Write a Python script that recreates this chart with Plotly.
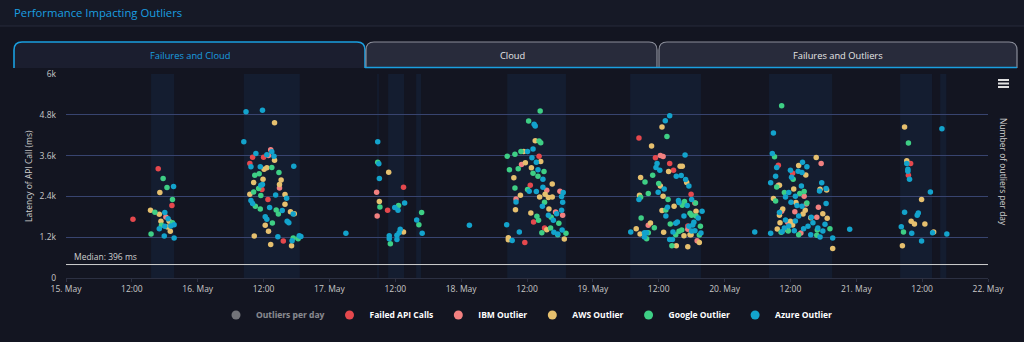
import plotly.graph_objects as go
import pandas as pd

BASE = pd.Timestamp("2023-05-15")

# ---------------- data (hours since 15 May 00:00, latency ms) ----------------
failed_h = [12.2, 16.8, 19.3, 34.0, 36.0, 33.5, 35.7, 36.8, 39.6, 61.5, 58.6, 86.2, 84.6, 85.2, 87.2, 83.6,
            104.4, 107.4, 110.0, 110.7, 113.9, 113.3, 129.8, 132.4, 153.9, 153.5]
failed_ms = [1726, 3210, 2130, 3555, 3555, 3368, 2602, 2307, 1087, 2670, 1991, 3584, 2729, 1647, 1469, 1047,
             4115, 3535, 3368, 3171, 2463, 1529, 3319, 3083, 3368, 3024]

ibm_h = [18.2, 37.3, 36.9, 38.9, 56.6, 56.7, 83.0, 87.6, 90.0, 82.0, 89.2, 90.5,
         108.3, 108.8, 114.6, 106.1, 113.3, 115.0,
         137.6, 129.8, 134.5, 134.9, 137.1, 130.4, 132.8, 136.8, 131.5, 133.9]
ibm_ms = [1794, 3770, 3605, 2650, 2522, 1824, 3338, 2581, 2552, 2326, 1942, 1844,
          3605, 3575, 2207, 1549, 1431, 1097,
          3368, 2729, 2404, 2178, 2080, 1962, 1952, 1785, 1637, 1323]

aws_h = [17.1, 15.4, 17.0, 17.3, 18.8, 18.5, 19.0,
         38.0, 38.0, 36.1, 36.6, 35.9, 39.2, 34.2, 38.9, 33.5, 39.9, 39.9, 40.9, 41.6, 36.3, 36.9, 34.3, 37.3, 41.1,
         58.8, 57.1, 61.5,
         85.5, 83.4, 86.5, 83.7, 84.8, 81.6, 88.6, 87.3, 82.8, 86.3, 87.9, 88.6, 81.9, 88.0, 84.7, 87.6, 80.6, 80.6, 90.8,
         108.6, 106.7, 111.9, 112.3, 109.8, 104.7, 113.1, 108.3, 104.5, 108.8, 110.8, 108.6, 114.8, 106.5, 103.9, 104.6,
         108.9, 112.6, 113.7, 113.9, 115.4, 111.2, 113.3,
         136.7, 133.5, 134.8, 130.0, 132.6, 137.4, 138.6, 128.9, 133.0, 130.6, 134.7, 134.3, 137.9, 130.0, 135.7, 138.7,
         130.1, 132.0, 132.4, 129.6, 131.5, 139.7,
         152.8, 153.2, 155.9, 154.0, 154.6, 156.5, 158.1, 152.4]
aws_ms = [2512, 1991, 1873, 1667, 1667, 1500, 1372,
          4567, 3466, 3201, 3239, 2906, 2886, 2808, 2749, 2463, 2454, 2168, 1952, 1893, 1549, 1372, 1234, 988, 950,
          3112, 2248, 1352,
          4036, 3723, 3427, 3387, 3240, 2945, 2768, 2463, 2434, 2385, 2366, 2385, 2011, 2031, 1913, 1422, 1185, 1126, 1146,
          4440, 3879, 3289, 3289, 3132, 2955, 2808, 2709, 2434, 2404, 2109, 1982, 1962, 1618, 1450, 1293,
          1342, 1244, 1273, 1273, 1047, 950, 920,
          3545, 3309, 3033, 2729, 2620, 2611, 2591, 2336, 2218, 2031, 1991, 1883, 1893, 1844, 1775, 1755,
          1628, 1667, 1559, 1440, 1411, 871,
          4440, 3446, 2307, 1667, 1588, 1588, 1352, 950]

google_h = [17.7, 18.4, 19.4, 16.2, 19.4, 17.4, 15.5,
            37.5, 38.8, 34.4, 35.2, 35.1, 34.2, 35.5, 34.5, 35.4, 38.3, 38.7, 37.6, 42.3, 41.4,
            56.8, 57.2, 60.6, 64.8, 64.3, 59.1,
            86.4, 84.3, 86.2, 86.5, 82.9, 80.4, 81.8, 82.4, 80.8, 87.1, 85.1, 86.0, 81.8, 84.1, 87.2, 85.8, 88.4, 86.1,
            89.8, 88.3, 91.1, 86.7, 89.6,
            109.5, 106.9, 105.5, 108.0, 106.1, 104.7, 109.7, 112.7, 114.7, 112.3, 109.3, 113.7, 114.0, 114.8, 104.8,
            110.1, 107.2, 115.6, 112.2, 111.7, 106.1, 111.1, 115.4, 105.8, 110.4,
            130.4, 129.1, 132.5, 129.5, 130.9, 133.7, 134.5, 129.3, 135.0, 139.2, 136.9, 131.6, 130.3, 133.5, 136.8,
            153.5, 152.6]
google_ms = [2926, 2660, 2307, 1932, 1628, 1549, 1293,
             3251, 3103, 3024, 3063, 2631, 2532, 2424, 2109, 2031, 2001, 1883, 1618, 1156, 1175,
             3407, 2090, 2130, 1923, 1569, 1008,
             4912, 4617, 4027, 3977, 3723, 3584, 3643, 3210, 3181, 3132, 3083, 2994, 2650, 2602, 2227, 1814, 1785, 1696,
             1608, 1469, 1313, 1333, 1273,
             4165, 3024, 2827, 2778, 2484, 2375, 2307, 2248, 2207, 2139, 2001, 1903, 1844, 1824, 1765,
             1588, 1480, 1519, 1411, 1372, 1333, 1273, 1264, 1156, 950,
             5069, 3565, 2906, 2680, 2513, 2483, 2542, 2267, 2207, 1450, 1411, 1382, 1342, 1273, 1254,
             3968, 1352]

azure_h = [19.6, 18.0, 18.6, 19.7, 18.0, 19.1, 17.0, 17.9, 19.7,
           32.8, 35.8, 32.4, 34.6, 36.6, 37.5, 37.9, 33.7, 35.4, 41.5, 35.5, 35.8, 38.2, 40.2, 33.7, 34.0, 37.1, 39.4,
           41.4, 36.3, 36.6, 40.3, 40.6, 38.6, 42.5, 42.8, 41.2,
           51.0, 56.8, 57.0, 57.1, 61.7, 59.9, 60.5, 63.9, 64.9, 60.9, 60.7, 60.3, 58.9, 58.9, 60.3, 73.5,
           85.3, 85.5, 85.1, 84.1, 84.9, 85.7, 86.0, 86.9, 86.9, 84.4, 85.7, 90.6, 90.3, 82.0, 90.5, 86.8, 90.3, 89.4,
           87.9, 88.8, 80.3, 90.4, 88.9, 89.6, 82.6, 81.3,
           110.0, 109.2, 112.8, 107.7, 107.5, 108.2, 111.2, 112.1, 112.9, 113.5, 109.0, 107.9, 104.4, 111.6, 114.0,
           111.7, 113.2, 109.6, 115.9, 112.6, 109.3, 115.2, 111.4, 111.1, 114.4, 114.2, 113.5, 114.0, 114.6, 110.6,
           115.7, 102.9, 105.4, 105.8, 105.4, 110.0, 110.5, 125.5,
           128.9, 128.7, 129.5, 134.2, 135.0, 132.0, 133.4, 134.1, 129.3, 132.2, 128.4, 137.7, 134.0, 137.3, 138.5,
           131.7, 131.1, 132.9, 132.1, 138.5, 133.2, 134.1, 130.0, 133.5, 135.8, 131.1, 132.9, 136.1, 138.3, 131.7,
           135.2, 130.9, 134.4, 137.0, 132.7, 137.9, 128.4, 130.5, 135.7, 137.4, 139.7, 142.8,
           159.6, 153.2, 153.4, 153.4, 153.7, 157.5, 152.8, 155.3, 155.1, 152.2, 154.1, 157.9, 160.5, 155.9]
azure_ms = [2690, 1923, 1746, 1569, 1519, 1529, 1450, 1234, 1175,
            4892, 4932, 4006, 3664, 3623, 3711, 3584, 3269, 3269, 3289, 2729, 2749, 2444, 2345, 2277, 2189, 2071, 1982,
            1883, 1805, 1726, 1667, 1628, 1215, 1244, 1224, 1097,
            1313, 4006, 3357, 2926, 2207, 2071, 1991, 1706, 1313, 1431, 1333, 1254, 1244, 1156, 1136, 1549,
            4519, 4469, 3791, 3723, 3535, 3407, 3181, 2906, 2670, 2552, 2543, 2513, 2395, 2237, 2227, 2109, 1991, 1893,
            1844, 1696, 1569, 1411, 1342, 1293, 1352, 1106,
            4774, 4626, 3614, 3368, 3251, 3171, 2994, 3014, 2896, 2709, 2620, 2522, 2307, 2277, 2307,
            2218, 2130, 2080, 1962, 1824, 1824, 1765, 1647, 1608, 1637, 1559, 1519, 1382, 1392, 1352,
            1323, 1352, 1333, 1333, 1205, 1136, 1136, 1352,
            4263, 3664, 3250, 3407, 3269, 3171, 3142, 3103, 2994, 2965, 2798, 2798, 2709, 2562, 2630,
            2513, 2385, 2404, 2227, 2188, 2130, 2109, 1923, 1824, 1785, 1706, 1677, 1628, 1578, 1529,
            1519, 1470, 1450, 1470, 1391, 1382, 1313, 1362, 1273, 1205, 1175, 1431,
            4391, 3368, 3201, 3142, 2906, 2532, 1932, 1913, 1844, 1510, 1313, 1333, 1293, 1087]

# hidden series (legend only): outliers per day
days = ["2023-05-15 12:00", "2023-05-16 12:00", "2023-05-17 12:00", "2023-05-18 12:00",
        "2023-05-19 12:00", "2023-05-20 12:00", "2023-05-21 12:00"]
outliers_per_day = [27, 95, 31, 104, 128, 121, 28]

# plot bands (hours since start)
band_start = [15.5, 32.4, 56.7, 58.7, 63.8, 80.4, 102.8, 128.1, 152.0, 159.3]
band_end = [19.7, 42.6, 57.0, 61.6, 64.7, 91.1, 115.7, 139.6, 157.8, 160.4]

median_ms = 396

tick_hours = list(range(0, 169, 12))
tick_text = ["15. May", "12:00", "16. May", "12:00", "17. May", "12:00", "18. May", "12:00",
             "19. May", "12:00", "20. May", "12:00", "21. May", "12:00", "22. May"]
y_ticks = [0, 1200, 2400, 3600, 4800, 6000]
y_ticktext = ["0", "1.2k", "2.4k", "3.6k", "4.8k", "6k"]

tabs = ["Failures and Cloud", "Cloud", "Failures and Outliers"]

# ---------------- styling ----------------
BG = "#131521"
FONT = "Open Sans"
CYAN = "#1a9fe0"
GRID = "#38446f"

W, H = 1024, 342
L, R, T, B = 66, 36, 74, 64
PW, PH = W - L - R, H - T - B


def xp(px):
    return (px - L) / PW


def yp(py):
    return (H - B - py) / PH


def t(h):
    return BASE + pd.to_timedelta(h, unit="h")


fig = go.Figure()

fig.add_trace(go.Scatter(x=pd.to_datetime(days), y=outliers_per_day, name="Outliers per day",
                         mode="markers", yaxis="y2", visible="legendonly",
                         marker=dict(color="#d0d0d0", size=9)))

series = [
    ("Failed API Calls", failed_h, failed_ms, "#e5484d"),
    ("IBM Outlier", ibm_h, ibm_ms, "#f28080"),
    ("AWS Outlier", aws_h, aws_ms, "#e6c06e"),
    ("Google Outlier", google_h, google_ms, "#3ecf85"),
    ("Azure Outlier", azure_h, azure_ms, "#13a3cc"),
]
for name, hs, ms, col in series:
    fig.add_trace(go.Scatter(x=[t(h) for h in hs], y=ms, name=name, mode="markers", legendgroup=name,
                             showlegend=False, marker=dict(color=col, size=5.5, line=dict(width=0))))
    fig.add_trace(go.Scatter(x=[None], y=[None], name=name, mode="markers", legendgroup=name,
                             showlegend=True, marker=dict(color=col, size=9, line=dict(width=0))))

shapes = []
for s, e in zip(band_start, band_end):
    shapes.append(dict(type="rect", xref="x", yref="paper", x0=t(s), x1=t(e), y0=0, y1=1,
                       fillcolor="#141d30", line=dict(width=0), layer="below"))
shapes.append(dict(type="line", xref="paper", yref="y", x0=0, x1=1, y0=median_ms, y1=median_ms,
                   line=dict(color="#cfcfcf", width=1)))
shapes.append(dict(type="rect", xref="paper", yref="paper", x0=xp(0), x1=xp(W), y0=yp(0), y1=yp(26),
                   fillcolor="#161926", line=dict(width=0), layer="below"))
shapes.append(dict(type="line", xref="paper", yref="paper", x0=xp(0), x1=xp(W), y0=yp(26), y1=yp(26),
                   line=dict(color="#262a3a", width=1)))


def tab_path(x0, x1, y0, y1, r=8, closed=True):
    p = (f"M {xp(x0)},{yp(y1)} L {xp(x0)},{yp(y0 + r)} Q {xp(x0)},{yp(y0)} {xp(x0 + r)},{yp(y0)} "
         f"L {xp(x1 - r)},{yp(y0)} Q {xp(x1)},{yp(y0)} {xp(x1)},{yp(y0 + r)} L {xp(x1)},{yp(y1)}")
    return p + (" Z" if closed else "")


tab_geo = [(14, 365), (366, 657), (659, 1017)]
for i, (a, b) in enumerate(tab_geo):
    fill = "#1b1e2f" if i == 0 else "#282b3b"
    edge = CYAN if i == 0 else "#8b8e9a"
    shapes.append(dict(type="path", xref="paper", yref="paper", path=tab_path(a, b, 42, 68),
                       fillcolor=fill, line=dict(width=0)))
    shapes.append(dict(type="path", xref="paper", yref="paper", path=tab_path(a, b, 42, 68, closed=False),
                       fillcolor="rgba(0,0,0,0)", line=dict(color=edge, width=1.6 if i == 0 else 1.2)))
shapes.append(dict(type="line", xref="paper", yref="paper", x0=xp(365), x1=xp(1017), y0=yp(67.5), y1=yp(67.5),
                   line=dict(color=CYAN, width=1.6)))
for yy in (80, 83.5, 87):
    shapes.append(dict(type="line", xref="paper", yref="paper", x0=xp(998), x1=xp(1009), y0=yp(yy), y1=yp(yy),
                       line=dict(color="#e0e0e0", width=2)))

annotations = [
    dict(text="Performance Impacting Outliers", xref="paper", yref="paper", x=xp(12), y=yp(13),
         xanchor="left", yanchor="middle", showarrow=False, font=dict(family=FONT, size=11.3, color=CYAN)),
    dict(text=f"Median: {median_ms} ms", xref="paper", yref="y", x=xp(72), y=median_ms, yshift=1,
         xanchor="left", yanchor="bottom", showarrow=False, font=dict(family=FONT, size=8.5, color="#cfcfcf")),
    dict(text="Latency of API Call (ms)", xref="paper", yref="paper", x=xp(28), y=yp(176), textangle=-90,
         xanchor="center", yanchor="middle", showarrow=False, font=dict(family=FONT, size=8.5, color="#cfcfcf")),
    dict(text="Number of outliers per day", xref="paper", yref="paper", x=xp(1004), y=yp(172), textangle=90,
         xanchor="center", yanchor="middle", showarrow=False, font=dict(family=FONT, size=8.5, color="#cfcfcf")),
]
tab_centers = [190, 512, 838]
for i, (txt, cx) in enumerate(zip(tabs, tab_centers)):
    annotations.append(dict(text=txt, xref="paper", yref="paper", x=xp(cx), y=yp(55.5), showarrow=False,
                            xanchor="center", yanchor="middle",
                            font=dict(family=FONT, size=9.3, color=CYAN if i == 0 else "#e6e6e6")))

fig.update_layout(
    width=W, height=H,
    margin=dict(l=L, r=R, t=T, b=B, pad=0),
    paper_bgcolor=BG, plot_bgcolor=BG,
    font=dict(family=FONT, size=8.5, color="#cfcfcf"),
    showlegend=True,
    legend=dict(orientation="h", x=0.5, xanchor="center", y=yp(315), yanchor="middle",
                font=dict(family=FONT, size=8.5, color="#ffffff", weight="bold"),
                itemwidth=30, bgcolor="rgba(0,0,0,0)", traceorder="normal", itemclick=False),
    xaxis=dict(type="date", range=[t(0), t(168)], tickvals=[t(h) for h in tick_hours], ticktext=tick_text,
               showgrid=False, showline=True, linecolor="#2c3042", linewidth=1, ticks="outside",
               ticklen=3, tickcolor="#2c3042", tickfont=dict(size=8.5, color="#c8c8c8"), zeroline=False),
    yaxis=dict(range=[0, 6000], tickvals=y_ticks, ticktext=y_ticktext, showgrid=True, gridcolor=GRID,
               gridwidth=1, zeroline=False, tickfont=dict(size=8.5, color="#c8c8c8"), ticklabelstandoff=9,
               fixedrange=True),
    yaxis2=dict(overlaying="y", side="right", showgrid=False, showticklabels=False, zeroline=False,
                range=[0, 150]),
    shapes=shapes,
    annotations=annotations,
    hovermode="closest",
)

fig.write_html("out.html", config={"displayModeBar": False})
